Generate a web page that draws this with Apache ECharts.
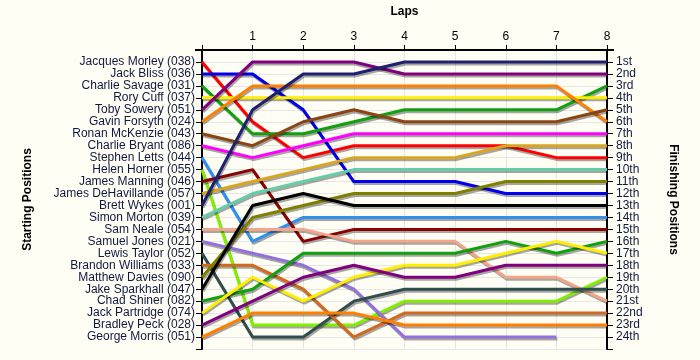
<!DOCTYPE html>
<html>
<head>
<meta charset="utf-8">
<script src="https://cdn.jsdelivr.net/npm/echarts@6/dist/echarts.min.js"></script>
<style>html,body{margin:0;padding:0;background:#FFFEF5;}#c{width:700px;height:360px;}</style>
</head>
<body>
<div id="c"></div>
<script>
const laps = [0, 1, 2, 3, 4, 5, 6, 7, 8];
const drivers = ["Jacques Morley","Jack Bliss","Charlie Savage","Rory Cuff","Toby Sowery","Gavin Forsyth","Ronan McKenzie","Charlie Bryant","Stephen Letts","Helen Horner","James Manning","James DeHavillande","Brett Wykes","Simon Morton","Sam Neale","Samuel Jones","Lewis Taylor","Brandon Williams","Matthew Davies","Jake Sparkhall","Chad Shiner","Jack Partridge","Bradley Peck","George Morris"];
const carNumbers = ["038","036","031","037","051","024","043","086","044","055","046","057","001","039","054","021","052","033","090","047","082","074","028","051"];
const finishLabels = ["1st","2nd","3rd","4th","5th","6th","7th","8th","9th","10th","11th","12th","13th","14th","15th","16th","17th","18th","19th","20th","21st","22nd","23rd","24th"];
// position of each driver at laps 0..8 (null = did not finish lap)
const lapPositions = [
  [1,6,9,8,8,8,8,9,9],
  [2,2,5,11,11,11,12,12,12],
  [3,7,7,6,5,5,5,5,3],
  [4,4,4,4,4,4,4,4,4],
  [5,1,1,1,2,2,2,2,2],
  [6,3,3,3,3,3,3,3,6],
  [7,8,6,5,6,6,6,6,5],
  [8,9,8,7,7,7,7,7,7],
  [9,16,14,14,14,14,14,14,14],
  [10,23,23,23,21,21,21,21,19],
  [11,10,16,15,15,15,15,15,15],
  [12,11,10,9,9,9,8,8,8],
  [13,5,2,2,1,1,1,1,1],
  [14,12,11,10,10,10,10,10,10],
  [15,15,15,16,16,16,19,19,21],
  [16,17,18,20,24,24,24,24,null],
  [17,24,24,21,20,20,20,20,20],
  [18,18,20,24,22,22,22,22,22],
  [19,14,13,12,12,12,11,11,11],
  [20,13,12,13,13,13,13,13,13],
  [21,20,17,17,17,17,16,17,16],
  [22,19,21,19,18,18,17,16,17],
  [23,21,19,18,19,19,18,18,18],
  [24,22,22,22,23,23,23,23,23]
];
const palette = ["#FF0000","#0000EE","#10A010","#FFEE00","#800080","#FF8000","#8B4513","#FF00FF","#3090F0","#80F000","#8B0000","#DAA520","#202070","#66CDAA","#F4A488","#9370DB","#2F4F4F","#D2691E","#808000","#000000","#10A010","#FFEE00","#800080","#FF8000"];

const txt = '#101840';
const series = drivers.map((d, i) => ({
  name: d + ' (' + carNumbers[i] + ')',
  type: 'line',
  yAxisIndex: 0,
  symbol: 'none',
  animation: false,
  data: laps.map((l, j) => [l, lapPositions[i][j]]).filter(p => p[1] !== null),
  lineStyle: {width: 3, color: palette[i], shadowColor: 'rgba(0,0,0,0.35)', shadowBlur: 0, shadowOffsetX: 1, shadowOffsetY: 2},
  itemStyle: {color: palette[i]}
}));

const chart = echarts.init(document.getElementById('c'), null, {renderer: 'canvas'});
chart.setOption({
  backgroundColor: '#FFFEF5',
  animation: false,
  grid: {left: 202, right: 93, top: 50, bottom: 11, containLabel: false},
  xAxis: {
    type: 'value', min: 0, max: 8, interval: 1, position: 'top',
    name: 'Laps', nameLocation: 'middle', nameGap: 32,
    nameTextStyle: {fontFamily: 'Liberation Sans', fontWeight: 'bold', fontSize: 12, color: '#000'},
    axisLine: {show: true, lineStyle: {color: '#000', width: 2}},
    axisTick: {show: true, length: 5, lineStyle: {color: '#000'}},
    axisLabel: {fontFamily: 'Liberation Sans', fontSize: 12, color: '#000', margin: 7, formatter: v => v === 0 ? '' : String(v)},
    splitLine: {show: true, lineStyle: {color: '#E6E6E6', width: 1}}
  },
  yAxis: [
    {
      type: 'value', inverse: true, min: 0, max: 25, interval: 1, position: 'left',
      name: 'Starting Positions', nameLocation: 'middle', nameGap: 168, nameRotate: 90,
      nameTextStyle: {fontFamily: 'Liberation Sans', fontWeight: 'bold', fontSize: 12, color: '#000'},
      axisLine: {show: true, lineStyle: {color: '#000', width: 2}},
      axisTick: {show: true, length: 6, lineStyle: {color: '#000'}},
      axisLabel: {fontFamily: 'Liberation Sans', fontSize: 12, color: txt, margin: 7,
        formatter: v => (v >= 1 && v <= drivers.length) ? drivers[v - 1] + ' (' + carNumbers[v - 1] + ')' : ''},
      splitLine: {show: true, lineStyle: {color: '#E6E6E6', width: 1}}
    },
    {
      type: 'value', inverse: true, min: 0, max: 25, interval: 1, position: 'right',
      name: 'Finishing Positions', nameLocation: 'middle', nameGap: 60, nameRotate: -90,
      nameTextStyle: {fontFamily: 'Liberation Sans', fontWeight: 'bold', fontSize: 12, color: '#000'},
      axisLine: {show: true, lineStyle: {color: '#000', width: 2}},
      axisTick: {show: true, length: 6, lineStyle: {color: '#000'}},
      axisLabel: {fontFamily: 'Liberation Sans', fontSize: 12, color: txt, margin: 9,
        formatter: v => (v >= 1 && v <= finishLabels.length) ? finishLabels[v - 1] : ''},
      splitLine: {show: false}
    }
  ],
  series: series
});
// extend the top axis line slightly beyond both side axes, as in the reference
const p0 = chart.convertToPixel({xAxisIndex: 0, yAxisIndex: 0}, [0, 0]);
const p8 = chart.convertToPixel({xAxisIndex: 0, yAxisIndex: 0}, [8, 0]);
chart.setOption({
  graphic: [{type: 'line', shape: {x1: p0[0] - 7, y1: p0[1], x2: p8[0] + 7, y2: p8[1]}, style: {stroke: '#000', lineWidth: 2}, z: 10}]
});
</script>
</body>
</html>
